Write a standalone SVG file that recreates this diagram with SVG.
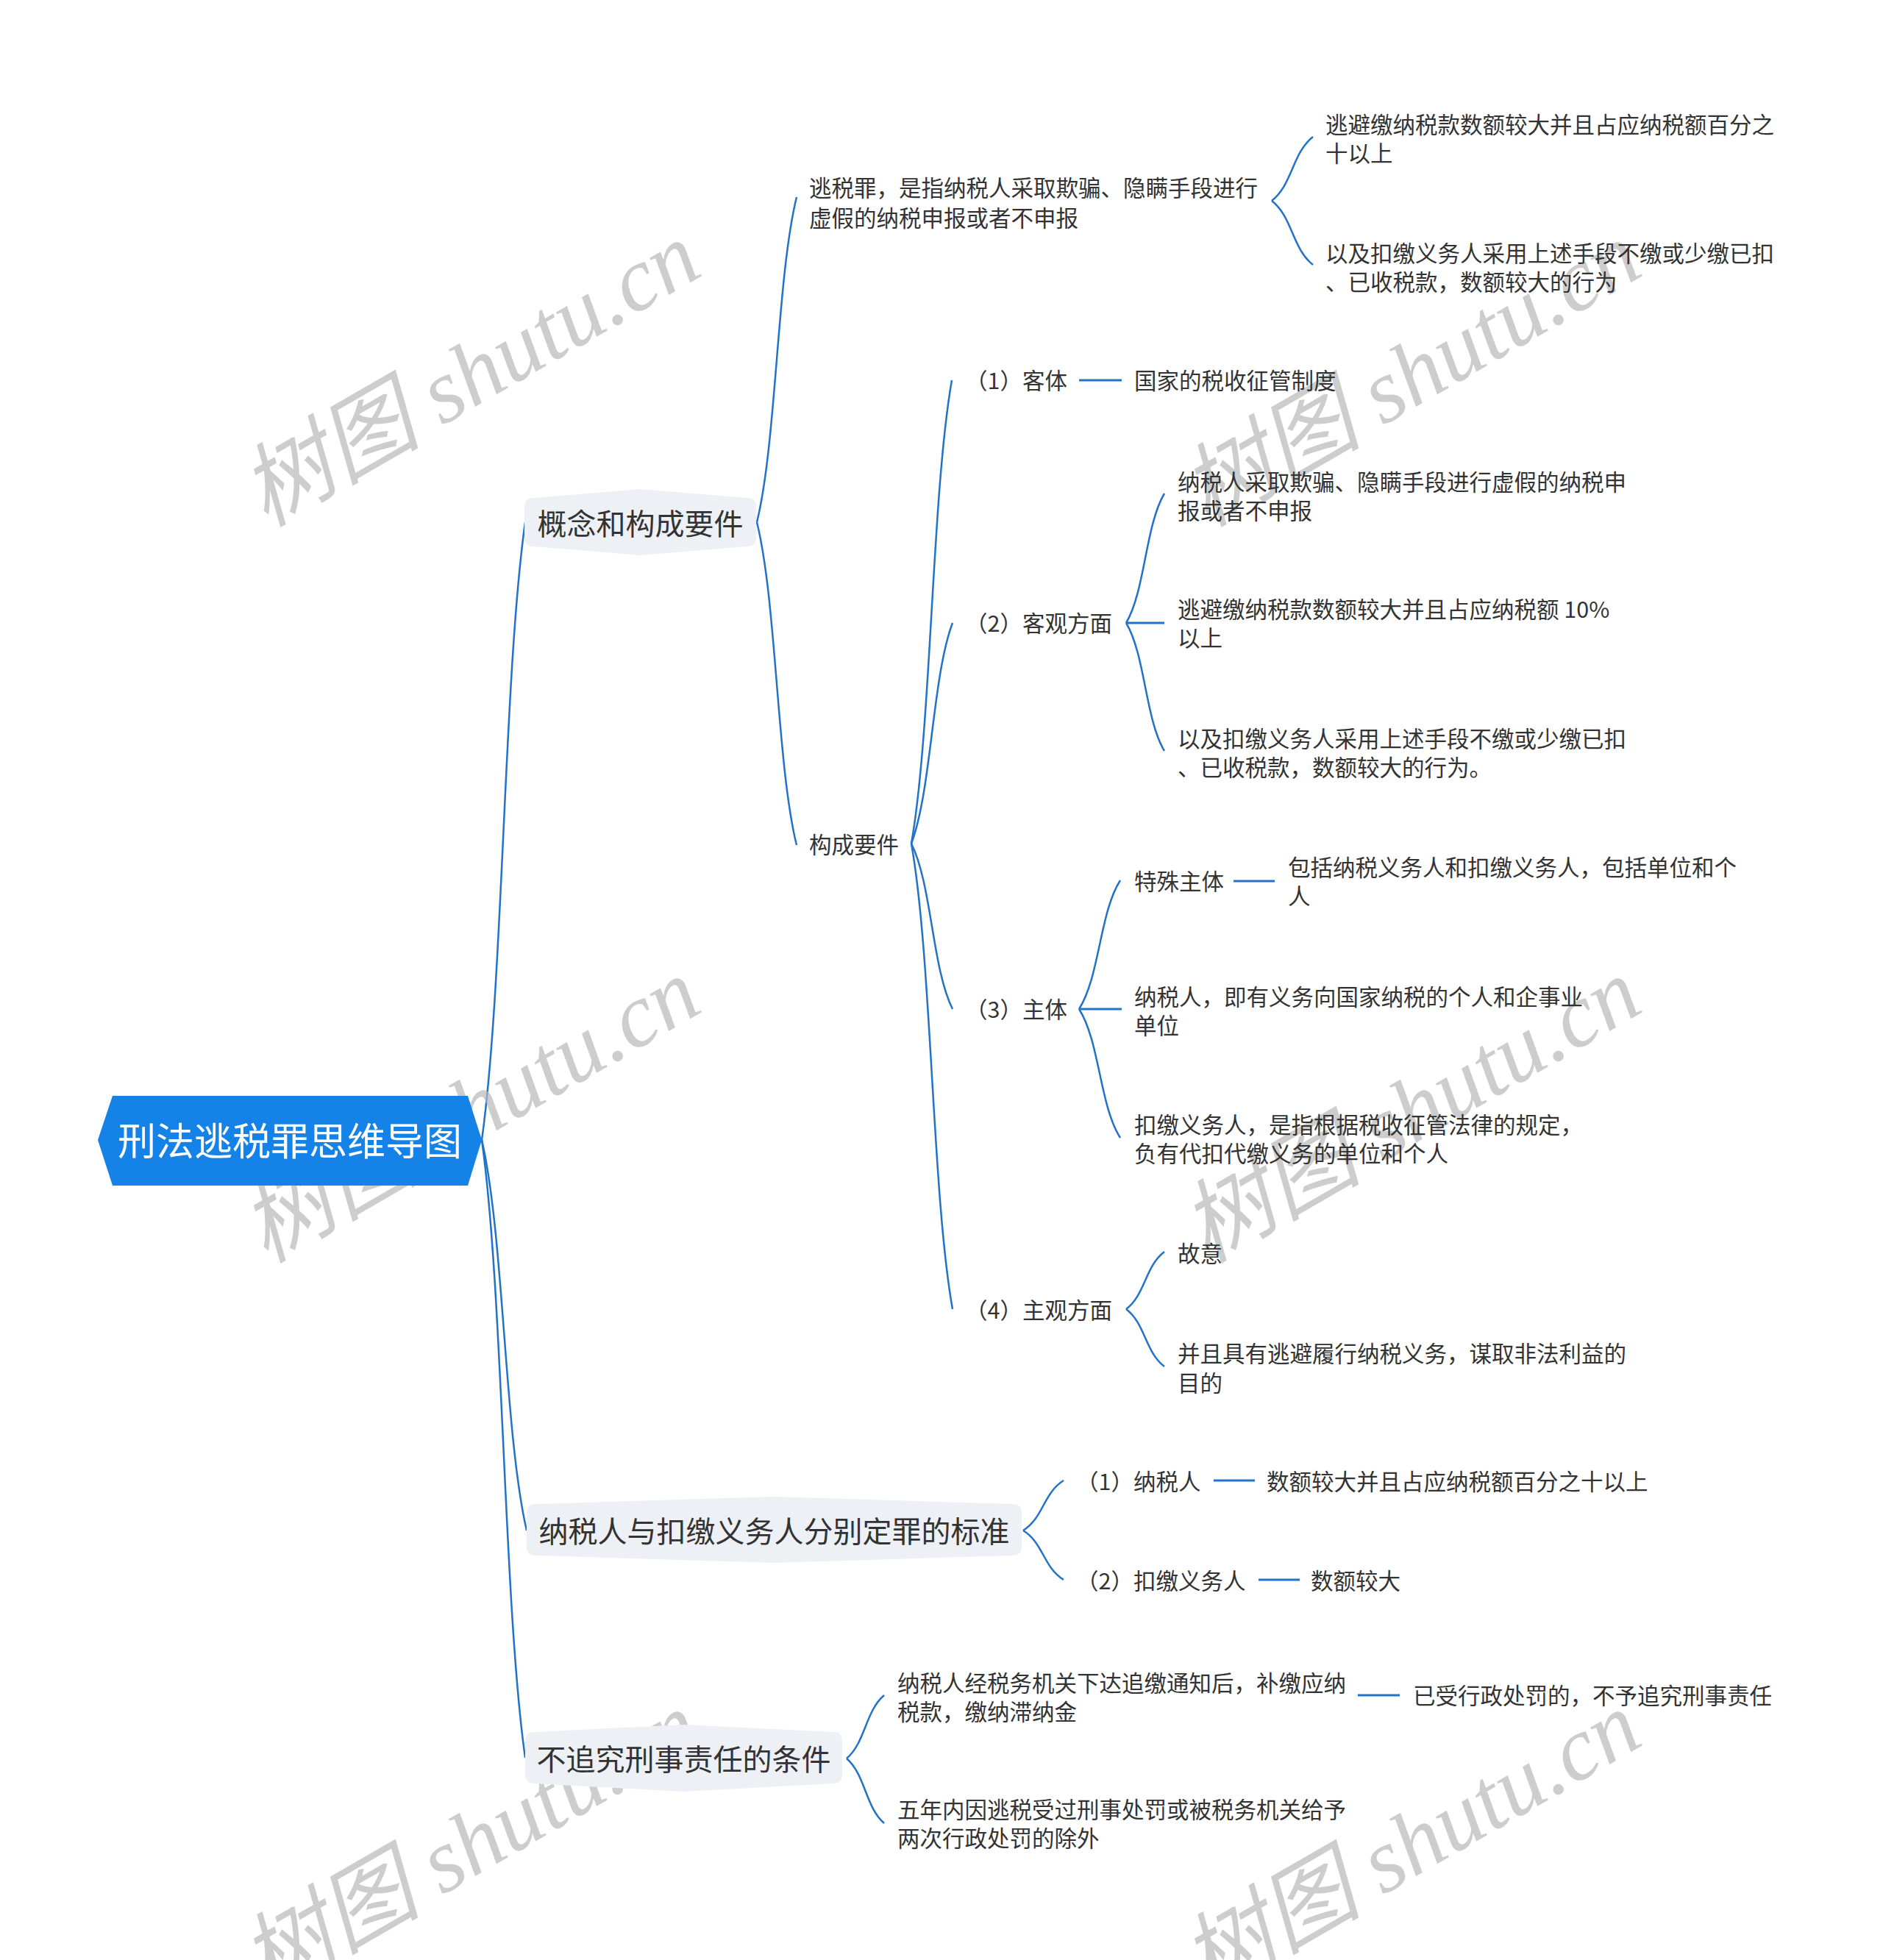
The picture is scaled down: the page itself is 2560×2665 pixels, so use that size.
<svg xmlns="http://www.w3.org/2000/svg" width="2560" height="2665" viewBox="0 0 2560 2665">
<style>
.wm{font-family:"Liberation Serif","Noto Sans CJK SC",serif;font-style:italic;font-size:123px;fill:#b8b8b8;fill-opacity:0.7}
.t{font-family:"Noto Sans CJK SC","Noto Sans",sans-serif;font-size:30.5px;fill:#333333}
.l1{font-family:"Noto Sans CJK SC","Noto Sans",sans-serif;font-size:40px;fill:#333333}
.root{font-family:"Noto Sans CJK SC","Noto Sans",sans-serif;font-size:52px;fill:#ffffff}
.c{fill:none;stroke:#2272c8;stroke-width:2.5}
.s{fill:none;stroke:#2272c8;stroke-width:3}
.box{fill:#edf0f4}
</style>
<rect width="2560" height="2665" fill="#ffffff"/>
<g id="connectors">
<path class="c" d="M655 1550 C684.5 1340 684.5 920 714 710"/>
<path class="c" d="M655 1550 C685.5 1682.75 685.5 1948.25 716 2081"/>
<path class="c" d="M655 1550 C684.5 1760 684.5 2180 714 2390"/>
<path class="c" d="M1029 710 C1056 599.5 1056 378.5 1083 268"/>
<path class="c" d="M1029 710 C1056 819.75 1056 1039.25 1083 1149"/>
<path class="c" d="M1729 273 C1757 251.25 1757 207.75 1785 186"/>
<path class="c" d="M1729 273 C1757 294.75 1757 338.25 1785 360"/>
<path class="c" d="M1239 1147 C1266.5 989.5 1266.5 674.5 1294 517"/>
<path class="c" d="M1239 1147 C1267 1072 1267 922 1295 847"/>
<path class="c" d="M1239 1147 C1267 1203.25 1267 1315.75 1295 1372"/>
<path class="c" d="M1239 1147 C1267 1305.25 1267 1621.75 1295 1780"/>
<path class="s" d="M1467 517 H1525"/>
<path class="c" d="M1531 847 C1557 803 1557 715 1583 671"/>
<path class="s" d="M1531 847 H1583"/>
<path class="c" d="M1531 847 C1557 890.5 1557 977.5 1583 1021"/>
<path class="c" d="M1467 1372 C1495 1328.25 1495 1240.75 1523 1197"/>
<path class="s" d="M1467 1372 H1525"/>
<path class="c" d="M1467 1372 C1495 1415.75 1495 1503.25 1523 1547"/>
<path class="s" d="M1677 1198 H1733"/>
<path class="c" d="M1531 1780 C1557 1760.5 1557 1721.5 1583 1702"/>
<path class="c" d="M1531 1780 C1557 1799.5 1557 1838.5 1583 1858"/>
<path class="c" d="M1391 2081 C1418.5 2064 1418.5 2030 1446 2013"/>
<path class="c" d="M1391 2081 C1418.5 2097.75 1418.5 2131.25 1446 2148"/>
<path class="s" d="M1650 2013 H1706"/>
<path class="s" d="M1711 2148 H1767"/>
<path class="c" d="M1151 2391 C1176.5 2369.5 1176.5 2326.5 1202 2305"/>
<path class="c" d="M1151 2391 C1176.5 2413 1176.5 2457 1202 2479"/>
<path class="s" d="M1846 2305 H1903"/>
</g>
<g id="watermarks">
<text class="wm" text-anchor="middle" transform="translate(660,545) rotate(-30)">树图 shutu.cn</text>
<text class="wm" text-anchor="middle" transform="translate(1939,545) rotate(-30)">树图 shutu.cn</text>
<text class="wm" text-anchor="middle" transform="translate(660,1546) rotate(-30)">树图 shutu.cn</text>
<text class="wm" text-anchor="middle" transform="translate(1939,1546) rotate(-30)">树图 shutu.cn</text>
<text class="wm" text-anchor="middle" transform="translate(660,2543) rotate(-30)">树图 shutu.cn</text>
<text class="wm" text-anchor="middle" transform="translate(1939,2543) rotate(-30)">树图 shutu.cn</text>
</g>
<g id="root">
<path d="M133 1550 L153 1490 L636 1490 L655 1550 L636 1612 L153 1612 Z" fill="#1582e8"/>
<text class="root" x="394" y="1571" text-anchor="middle">刑法逃税罪思维导图</text>
</g>
<g id="n-gainian">
<path class="box" d="M725 677 L870.5 665 L1016 677 Q1028 677 1028 689 L1028 731 Q1028 743 1016 743 L870.5 755 L725 743 Q713 743 713 731 L713 689 Q713 677 725 677 Z"/>
<text class="l1" x="870.5" y="727" text-anchor="middle">概念和构成要件</text>
</g>
<g id="n-biaozhun">
<path class="box" d="M728 2045 L1052.5 2035 L1377 2045 Q1389 2045 1389 2057 L1389 2103 Q1389 2115 1377 2115 L1052.5 2125 L728 2115 Q716 2115 716 2103 L716 2057 Q716 2045 728 2045 Z"/>
<text class="l1" x="1052.5" y="2097" text-anchor="middle">纳税人与扣缴义务人分别定罪的标准</text>
</g>
<g id="n-tiaojian">
<path class="box" d="M726 2355 L929.5 2345 L1133 2355 Q1145 2355 1145 2367 L1145 2413 Q1145 2425 1133 2425 L929.5 2436 L726 2425 Q714 2425 714 2413 L714 2367 Q714 2355 726 2355 Z"/>
<text class="l1" x="929.5" y="2407" text-anchor="middle">不追究刑事责任的条件</text>
</g>
<g id="n-taoshuizui">
<text class="t" x="1100" y="267">逃税罪，是指纳税人采取欺骗、隐瞒手段进行</text>
<text class="t" x="1100" y="308">虚假的纳税申报或者不申报</text>
</g>
<g id="n-a1">
<text class="t" x="1802" y="181">逃避缴纳税款数额较大并且占应纳税额百分之</text>
<text class="t" x="1802" y="220">十以上</text>
</g>
<g id="n-a2">
<text class="t" x="1802" y="356">以及扣缴义务人采用上述手段不缴或少缴已扣</text>
<text class="t" x="1802" y="395">、已收税款，数额较大的行为</text>
</g>
<g id="n-goucheng">
<text class="t" x="1100" y="1160">构成要件</text>
</g>
<g id="n-keti">
<text class="t" x="1312" y="529">（1）客体</text>
</g>
<g id="n-keti-c">
<text class="t" x="1542" y="529">国家的税收征管制度</text>
</g>
<g id="n-keguan">
<text class="t" x="1312" y="859">（2）客观方面</text>
</g>
<g id="n-kg1">
<text class="t" x="1601" y="667">纳税人采取欺骗、隐瞒手段进行虚假的纳税申</text>
<text class="t" x="1601" y="706">报或者不申报</text>
</g>
<g id="n-kg2">
<text class="t" x="1601" y="840">逃避缴纳税款数额较大并且占应纳税额 10%</text>
<text class="t" x="1601" y="879">以上</text>
</g>
<g id="n-kg3">
<text class="t" x="1601" y="1016">以及扣缴义务人采用上述手段不缴或少缴已扣</text>
<text class="t" x="1601" y="1055">、已收税款，数额较大的行为。</text>
</g>
<g id="n-zhuti">
<text class="t" x="1312" y="1384">（3）主体</text>
</g>
<g id="n-teshu">
<text class="t" x="1542" y="1210">特殊主体</text>
</g>
<g id="n-teshu-c">
<text class="t" x="1751" y="1191">包括纳税义务人和扣缴义务人，包括单位和个</text>
<text class="t" x="1751" y="1230">人</text>
</g>
<g id="n-nashuiren">
<text class="t" x="1542" y="1367">纳税人，即有义务向国家纳税的个人和企事业</text>
<text class="t" x="1542" y="1406">单位</text>
</g>
<g id="n-koujiao">
<text class="t" x="1542" y="1541">扣缴义务人，是指根据税收征管法律的规定，</text>
<text class="t" x="1542" y="1580">负有代扣代缴义务的单位和个人</text>
</g>
<g id="n-zhuguan">
<text class="t" x="1312" y="1793">（4）主观方面</text>
</g>
<g id="n-guyi">
<text class="t" x="1601" y="1716">故意</text>
</g>
<g id="n-mudi">
<text class="t" x="1601" y="1852">并且具有逃避履行纳税义务，谋取非法利益的</text>
<text class="t" x="1601" y="1892">目的</text>
</g>
<g id="n-b1">
<text class="t" x="1463" y="2026">（1）纳税人</text>
</g>
<g id="n-b1-c">
<text class="t" x="1722" y="2026">数额较大并且占应纳税额百分之十以上</text>
</g>
<g id="n-b2">
<text class="t" x="1463" y="2161">（2）扣缴义务人</text>
</g>
<g id="n-b2-c">
<text class="t" x="1782" y="2161">数额较大</text>
</g>
<g id="n-c1">
<text class="t" x="1220" y="2300">纳税人经税务机关下达追缴通知后，补缴应纳</text>
<text class="t" x="1220" y="2339">税款，缴纳滞纳金</text>
</g>
<g id="n-c1-c">
<text class="t" x="1921" y="2317">已受行政处罚的，不予追究刑事责任</text>
</g>
<g id="n-c2">
<text class="t" x="1220" y="2472">五年内因逃税受过刑事处罚或被税务机关给予</text>
<text class="t" x="1220" y="2511">两次行政处罚的除外</text>
</g>
</svg>
